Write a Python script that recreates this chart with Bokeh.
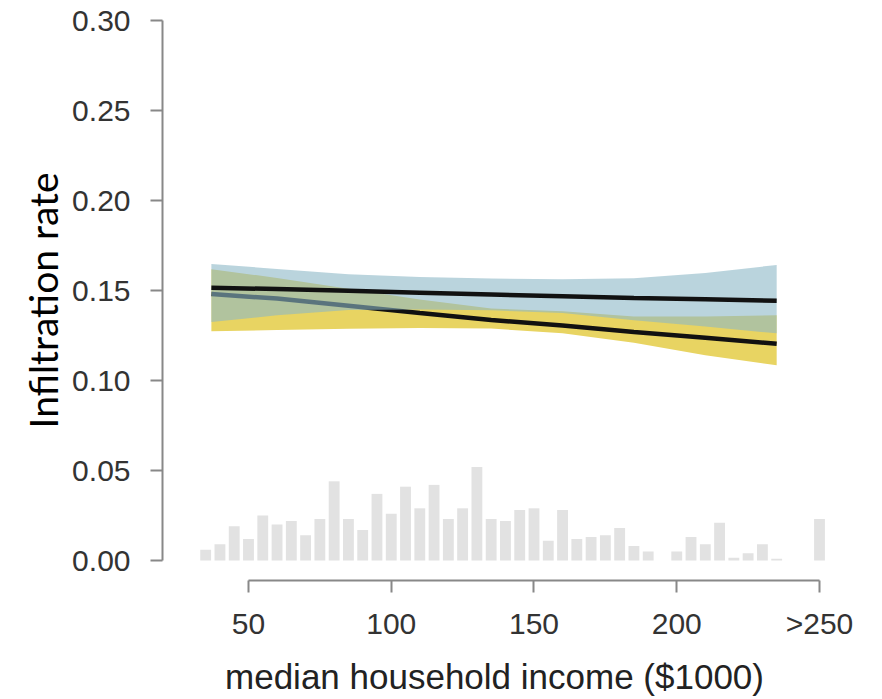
from bokeh.plotting import figure
from bokeh.models import Range1d, FixedTicker, LinearAxis, ColumnDataSource
from bokeh.embed import file_html
from bokeh.resources import INLINE

# ---- data ----
hist_centers = [35, 40, 45, 50, 55, 60, 65, 70, 75, 80, 85, 90, 95, 100, 105,
                110, 115, 120, 125, 130, 135, 140, 145, 150, 155, 160, 165, 170,
                175, 180, 185, 190, 195, 200, 205, 210, 215, 220, 225, 230, 235,
                240, 245, 250]
hist_heights = [0.006, 0.009, 0.019, 0.012, 0.025, 0.020, 0.022, 0.014, 0.023,
                0.044, 0.023, 0.017, 0.037, 0.026, 0.041, 0.029, 0.042, 0.023,
                0.029, 0.052, 0.023, 0.022, 0.028, 0.029, 0.011, 0.028, 0.012,
                0.013, 0.014, 0.018, 0.008, 0.005, 0.0, 0.005, 0.013, 0.009,
                0.021, 0.0015, 0.004, 0.009, 0.001, 0.0, 0.0, 0.023]

income = [37, 60, 85, 110, 135, 160, 185, 210, 235]

blue_fit = [0.1515, 0.1508, 0.1498, 0.1488, 0.1478, 0.1468, 0.1458, 0.1451, 0.1443]
blue_upper = [0.1647, 0.1620, 0.1590, 0.1575, 0.1567, 0.1562, 0.1568, 0.1597, 0.1642]
blue_lower = [0.1325, 0.1362, 0.1392, 0.1395, 0.1390, 0.1375, 0.1335, 0.1300, 0.1262]

yellow_fit = [0.1480, 0.1455, 0.1415, 0.1375, 0.1336, 0.1305, 0.1270, 0.1238, 0.1204]
yellow_upper = [0.1618, 0.1570, 0.1510, 0.1450, 0.1400, 0.1385, 0.1355, 0.1355, 0.1363]
yellow_lower = [0.1273, 0.1280, 0.1288, 0.1292, 0.1289, 0.1262, 0.1210, 0.1140, 0.1085]

x_ticks = [50, 100, 150, 200, 250]
x_tick_labels = ["50", "100", "150", "200", ">250"]
y_ticks = [0.0, 0.05, 0.10, 0.15, 0.20, 0.25, 0.30]
y_tick_labels = ["0.00", "0.05", "0.10", "0.15", "0.20", "0.25", "0.30"]

# ---- figure ----
p = figure(width=882, height=699,
           x_range=Range1d(19.88, 252.45), y_range=Range1d(-0.01111, 0.30),
           output_backend="svg", toolbar_location=None,
           x_axis_location=None, y_axis_location=None,
           min_border_left=162, min_border_right=56,
           min_border_top=20, min_border_bottom=119)
p.outline_line_color = None
p.xgrid.visible = False
p.ygrid.visible = False
p.background_fill_color = "white"
p.border_fill_color = "white"

# histogram
hsrc = ColumnDataSource(dict(x=hist_centers, top=hist_heights))
p.vbar(x="x", top="top", bottom=0, width=3.8, source=hsrc,
       fill_color="#e2e2e2", line_color=None)

# bands and lines
bsrc = ColumnDataSource(dict(x=income, bf=blue_fit, bu=blue_upper, bl=blue_lower,
                             yf=yellow_fit, yu=yellow_upper, yl=yellow_lower))
p.varea(x="x", y1="yl", y2="yu", source=bsrc, fill_color="#e8d462", fill_alpha=1.0)
p.line(x="x", y="yf", source=bsrc, line_color="#111111", line_width=4.5)
p.varea(x="x", y1="bl", y2="bu", source=bsrc, fill_color="#8cb7c6", fill_alpha=0.6)
p.line(x="x", y="bf", source=bsrc, line_color="#111111", line_width=4.5)

tick_font = "Liberation Sans"

yaxis = LinearAxis(bounds=(0, 0.30), ticker=FixedTicker(ticks=y_ticks),
                   axis_label="Infiltration rate")
yaxis.major_label_overrides = {t: l for t, l in zip(y_ticks, y_tick_labels)}
xaxis = LinearAxis(bounds=(50, 250), ticker=FixedTicker(ticks=x_ticks),
                   axis_label="median household income ($1000)")
xaxis.major_label_overrides = {t: l for t, l in zip(x_ticks, x_tick_labels)}

for ax in (xaxis, yaxis):
    ax.axis_line_color = "#888888"
    ax.axis_line_width = 2
    ax.major_tick_line_color = "#888888"
    ax.major_tick_line_width = 2
    ax.major_tick_in = 0
    ax.major_tick_out = 12
    ax.minor_tick_line_color = None
    ax.major_label_text_font = tick_font
    ax.major_label_text_font_size = "30px"
    ax.major_label_text_color = "#333333"

yaxis.major_label_standoff = 20
yaxis.axis_label_text_font = "Lato"
yaxis.axis_label_text_font_size = "39px"
yaxis.axis_label_text_font_style = "normal"
yaxis.axis_label_text_color = "#000000"
yaxis.axis_label_standoff = 3

xaxis.major_label_standoff = 14
xaxis.axis_label_text_font = tick_font
xaxis.axis_label_text_font_size = "35px"
xaxis.axis_label_text_font_style = "normal"
xaxis.axis_label_text_color = "#222222"
xaxis.axis_label_standoff = 14

p.add_layout(yaxis, "left")
p.add_layout(xaxis, "below")

open("out.html", "w").write(file_html(p, INLINE))
